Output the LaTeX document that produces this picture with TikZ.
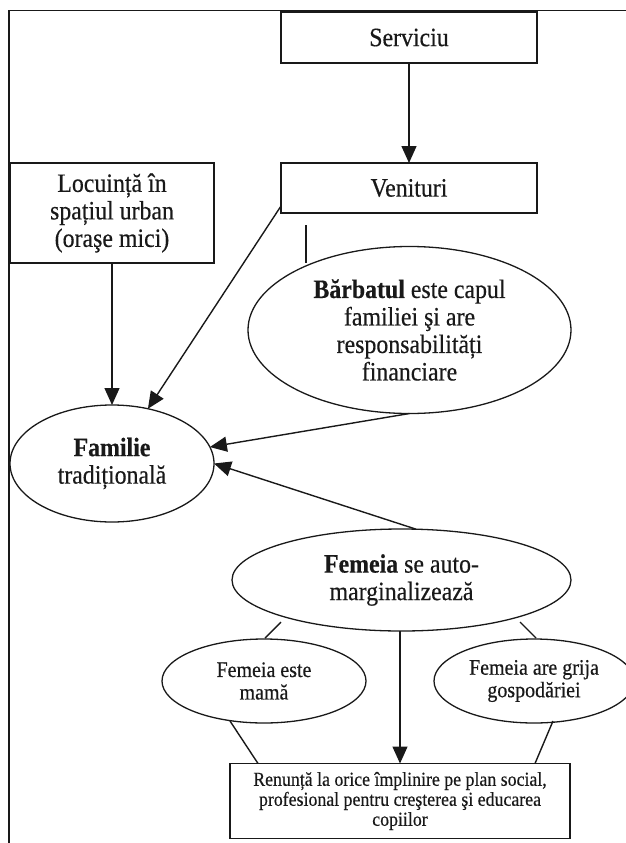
\documentclass[tikz,border=0pt]{standalone}
\usepackage{fontspec}
\setmainfont[FakeStretch=0.9,FakeBold=0.4]{Liberation Serif}
\usetikzlibrary{arrows.meta,calc,shapes.geometric}
\begin{document}
\begin{tikzpicture}[x=1pt,y=-1pt,
  every node/.style={inner sep=0pt, outer sep=0pt, align=center, text=black!90},
  rbox/.style={draw=black!90, line width=1.5pt, rectangle},
  oval/.style={draw=black!90, line width=1.3pt, ellipse},
  big/.style={font=\fontsize{26.5}{27.5}\selectfont},
  mid/.style={font=\fontsize{22.2}{22.5}\selectfont},
  sml/.style={font=\fontsize{19.8}{20}\selectfont},
  link/.style={draw=black!90, line width=1.4pt},
  arr/.style={link, -{Triangle[length=17pt,width=15pt]}},
]
\useasboundingbox (0,0) rectangle (626,843);
% outer frame
\draw[line width=1.7pt, black!90] (9,843) -- (9,10.5) -- (626,10.5);

\node[rbox, big, minimum width=256pt, minimum height=51pt] (serv) at (409,37.5) {Serviciu};
\node[rbox, big, minimum width=256pt, minimum height=50pt] (ven) at (409,188) {Venituri};
\node[rbox, big, minimum width=204pt, minimum height=100pt] (loc) at (112,213) {Locuinț\u{a} în\\spațiul urban\\(oraşe mici)};
\node[oval, big, minimum width=323pt, minimum height=167pt] (barb) at (409.5,330) {\textbf{B\u{a}rbatul} este capul\\familiei şi are\\responsabilități\\financiare};
\node[oval, big, minimum width=204pt, minimum height=117pt] (fam) at (112,463.5) {\textbf{Familie}\\tradițională};
\node[oval, big, minimum width=339pt, minimum height=102pt] (fem) at (401.5,580) {\textbf{Femeia} se auto-\\marginalizează};
\node[oval, mid, minimum width=204pt, minimum height=84pt] (mama) at (264,681) {Femeia este\\mamă};
\node[oval, mid, minimum width=200pt, minimum height=84pt] (grija) at (534,681) {Femeia are grija\\gospodăriei};
\node[rbox, sml, minimum width=340pt, minimum height=75pt] (ren) at (400,801) {Renunță la orice împlinire pe plan social,\\profesional pentru creşterea şi educarea\\copiilor};

% arrows
\draw[arr] (serv) -- (ven);
\draw[arr] (loc) -- (fam);
\draw[arr] ($(ven.south west)+(0,-7)$) -- (fam);
\draw[arr] (barb.south) -- (fam);
\draw[arr] (fem.74) -- (fam.east);
\draw[arr] (fem.south -| ren.north) -- (ren.north);

% plain lines
\coordinate (stubtop) at (306,225);
\coordinate (stubbot) at (306,263);
\draw[link] (stubtop) -- (stubbot);
\coordinate (fl1) at (281,622);
\coordinate (fl2) at (265,638);
\draw[link] (fl1) -- (fl2);
\coordinate (fr1) at (520,622);
\coordinate (fr2) at (536,638);
\draw[link] (fr1) -- (fr2);
\coordinate (ml) at (230,721);
\draw[link] (ml) -- ($(ren.north west)+(28,0)$);
\coordinate (gl) at (553,721);
\draw[link] (gl) -- ($(ren.north east)+(-35,0)$);
\end{tikzpicture}
\end{document}
